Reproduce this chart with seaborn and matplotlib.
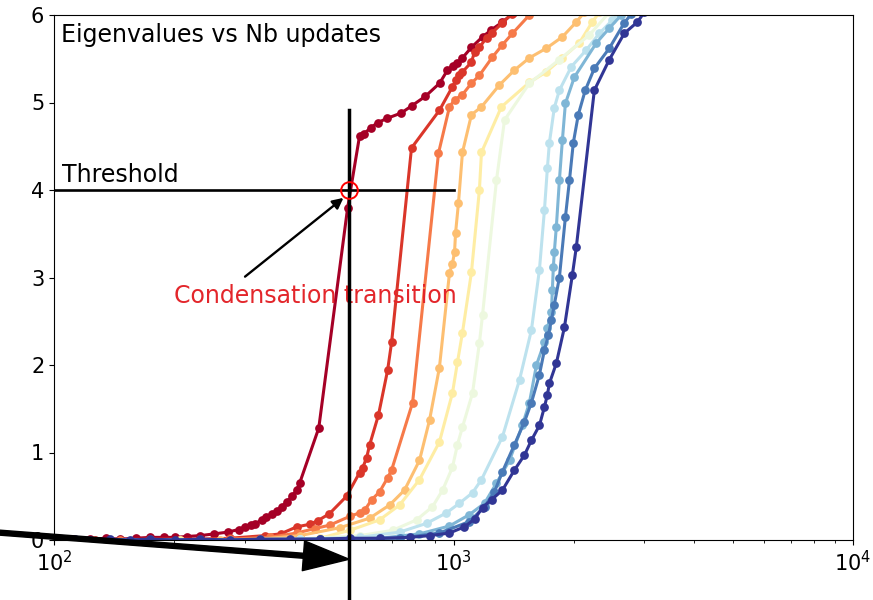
import numpy as np
import pandas as pd
import matplotlib
matplotlib.use("Agg")
import matplotlib.pyplot as plt
import seaborn as sns

# ---------------- data ----------------
s0_x = [103, 112, 123, 135, 146, 160, 174, 188, 201, 215, 232, 252, 272, 290, 300, 312, 318, 331, 340, 351,
        361, 372, 382, 394, 405, 412, 460, 543, 582, 596, 620, 646, 683, 740, 785, 850, 923, 966, 995, 1023,
        1053, 1109, 1182, 1244, 1326, 1421]
s0_y = [0.01, 0.01, 0.01, 0.02, 0.01, 0.02, 0.03, 0.03, 0.03, 0.04, 0.05, 0.07, 0.09, 0.12, 0.15, 0.17, 0.18,
        0.23, 0.26, 0.30, 0.33, 0.38, 0.43, 0.50, 0.57, 0.65, 1.28, 3.79, 4.62, 4.64, 4.71, 4.77, 4.82, 4.88,
        4.96, 5.07, 5.22, 5.37, 5.42, 5.45, 5.51, 5.63, 5.75, 5.83, 5.92, 6.03]

s1_x = [103, 127, 174, 232, 275, 337, 369, 405, 437, 457, 489, 540, 582, 592, 606, 617, 649, 684, 700, 785,
        922, 994, 1017, 1035, 1053, 1109, 1129, 1161, 1210, 1245, 1326, 1397]
s1_y = [0.0, 0.0, 0.01, 0.01, 0.02, 0.05, 0.07, 0.15, 0.18, 0.22, 0.30, 0.50, 0.77, 0.82, 0.94, 1.09, 1.43,
        1.94, 2.26, 4.48, 4.91, 5.18, 5.26, 5.31, 5.35, 5.46, 5.58, 5.63, 5.74, 5.79, 5.91, 6.01]

s2_x = [103, 146, 207, 275, 347, 405, 449, 490, 550, 582, 599, 624, 653, 684, 700, 790, 917, 977, 1006, 1053,
        1109, 1161, 1252, 1326, 1405, 1549]
s2_y = [0.0, 0.0, 0.0, 0.01, 0.03, 0.08, 0.13, 0.17, 0.27, 0.31, 0.34, 0.46, 0.55, 0.71, 0.80, 1.57, 4.42,
        4.95, 5.03, 5.09, 5.22, 5.31, 5.52, 5.66, 5.79, 6.0]

s3_x = [103, 174, 260, 327, 412, 519, 617, 692, 754, 822, 871, 922, 977, 994, 1006, 1012, 1029, 1053, 1109,
        1175, 1303, 1421, 1549, 1708, 1873, 2030, 2125]
s3_y = [0.0, 0.0, 0.0, 0.01, 0.05, 0.14, 0.25, 0.40, 0.57, 0.91, 1.37, 1.97, 3.05, 3.16, 3.29, 3.51, 3.85,
        4.43, 4.86, 4.95, 5.20, 5.37, 5.51, 5.62, 5.75, 5.92, 6.03]

s4_x = [103, 207, 327, 462, 550, 653, 733, 822, 922, 994, 1023, 1053, 1109, 1161, 1175, 1318, 1549, 1708,
        1873, 2065, 2225, 2318]
s4_y = [0.0, 0.0, 0.0, 0.02, 0.11, 0.23, 0.40, 0.69, 1.12, 1.68, 2.03, 2.37, 3.06, 4.0, 4.43, 4.95, 5.23,
        5.35, 5.51, 5.68, 5.92, 6.03]

s5_x = [103, 232, 412, 582, 704, 808, 886, 939, 994, 1023, 1053, 1116, 1161, 1182, 1281, 1342, 1549, 1841,
        2187, 2455]
s5_y = [0.0, 0.0, 0.01, 0.05, 0.11, 0.23, 0.38, 0.57, 0.83, 1.09, 1.29, 1.68, 2.25, 2.57, 4.11, 4.80, 5.22,
        5.49, 5.77, 6.03]

s6_x = [103, 232, 412, 582, 733, 856, 960, 1035, 1116, 1175, 1326, 1463, 1567, 1641, 1689, 1718, 1738, 1788,
        1841, 1973, 2150, 2318, 2497, 2600]
s6_y = [0.0, 0.0, 0.01, 0.03, 0.09, 0.19, 0.31, 0.42, 0.54, 0.69, 1.18, 1.83, 2.40, 3.09, 3.77, 4.25, 4.54,
        4.94, 5.14, 5.41, 5.60, 5.79, 5.94, 6.03]

s7_x = [103, 232, 462, 653, 822, 977, 1096, 1196, 1281, 1381, 1487, 1549, 1613, 1689, 1718, 1758, 1768, 1778,
        1788, 1809, 1841, 1873, 1906, 2007, 2278, 2455, 2631]
s7_y = [0.0, 0.0, 0.01, 0.02, 0.07, 0.16, 0.29, 0.42, 0.65, 0.91, 1.31, 1.57, 2.0, 2.26, 2.42, 2.61, 2.86,
        3.12, 3.29, 3.58, 4.11, 4.57, 4.99, 5.29, 5.68, 5.85, 6.0]

s8_x = [103, 232, 462, 733, 922, 1096, 1196, 1266, 1326, 1421, 1505, 1567, 1641, 1689, 1728, 1758, 1788, 1841,
        1906, 1951, 1995, 2053, 2137, 2252, 2455, 2676, 2785]
s8_y = [0.0, 0.0, 0.01, 0.02, 0.08, 0.21, 0.38, 0.55, 0.78, 1.09, 1.35, 1.57, 1.89, 2.17, 2.34, 2.51, 2.69,
        3.0, 3.69, 4.11, 4.54, 4.86, 5.14, 5.39, 5.62, 5.91, 6.01]

s9_x = [103, 113, 123, 138, 155, 174, 201, 232, 275, 327, 389, 462, 550, 653, 777, 871, 977, 1065, 1129, 1182,
        1245, 1326, 1421, 1505, 1567, 1641, 1689, 1718, 1738, 1809, 1895, 1984, 2030, 2252, 2455, 2676, 2887,
        3002]
s9_y = [0.01, 0.01, 0.0, 0.01, 0.0, 0.01, 0.0, 0.01, 0.0, 0.01, 0.01, 0.01, 0.02, 0.02, 0.03, 0.05, 0.08,
        0.15, 0.24, 0.37, 0.46, 0.57, 0.80, 0.97, 1.14, 1.31, 1.52, 1.66, 1.79, 2.02, 2.43, 3.03, 3.35, 5.14,
        5.49, 5.79, 5.92, 6.03]

series_x = [s0_x, s1_x, s2_x, s3_x, s4_x, s5_x, s6_x, s7_x, s8_x, s9_x]
series_y = [s0_y, s1_y, s2_y, s3_y, s4_y, s5_y, s6_y, s7_y, s8_y, s9_y]
series_names = [f"run{i}" for i in range(10)]

threshold = 4.0
transition_x = 548
title_text = "Eigenvalues vs Nb updates"
threshold_text = "Threshold"
transition_text = "Condensation transition"

# ---------------- build table ----------------
frames = []
for name, xs, ys in zip(series_names, series_x, series_y):
    frames.append(pd.DataFrame({"updates": xs, "eig": ys, "run": name}))
df = pd.concat(frames, ignore_index=True)

cmap = matplotlib.colormaps["RdYlBu"]
palette = [cmap(v) for v in np.linspace(0, 1, len(series_names))]

# ---------------- figure ----------------
fig = plt.figure(figsize=(8.73, 6.0), dpi=100)
ax = fig.add_axes([54 / 873, 60 / 600, 799 / 873, 525 / 600])

sns.lineplot(data=df, x="updates", y="eig", hue="run", hue_order=series_names,
             palette=palette, marker="o", markersize=6.3, markeredgewidth=0,
             linewidth=2.2, estimator=None, sort=False, legend=False, ax=ax)

ax.set_xscale("log")
ax.set_xlim(100, 10000)
ax.set_ylim(0, 6)
ax.set_xlabel("")
ax.set_ylabel("")
ax.tick_params(labelsize=15)

big = 17
ax.text(0.009, 0.949, title_text, transform=ax.transAxes, fontsize=big, va="baseline")
ax.text(105, 4.09, threshold_text, fontsize=big, va="baseline")
ax.plot([100, 1000], [threshold, threshold], color="black", lw=1.9)
ax.plot([transition_x, transition_x], [-0.75, 4.91], color="black", lw=2.5, clip_on=False, zorder=5)
ax.plot([transition_x], [threshold], marker="o", ms=12, mfc="none", mec="red", mew=1.4, zorder=6)
ax.text(200, 2.71, transition_text, fontsize=big, color="#e3262b", va="baseline")
ax.annotate("", xy=(537, 3.93), xytext=(297, 2.99),
            arrowprops=dict(arrowstyle="-|>", color="black", lw=1.7, mutation_scale=16))
ax.annotate("", xy=(transition_x, -0.22), xytext=(68, 0.095), annotation_clip=False,
            arrowprops=dict(facecolor="black", edgecolor="black", width=3.6, headwidth=21.5,
                            headlength=33, shrink=0))

fig.savefig("out.png", dpi=100)
